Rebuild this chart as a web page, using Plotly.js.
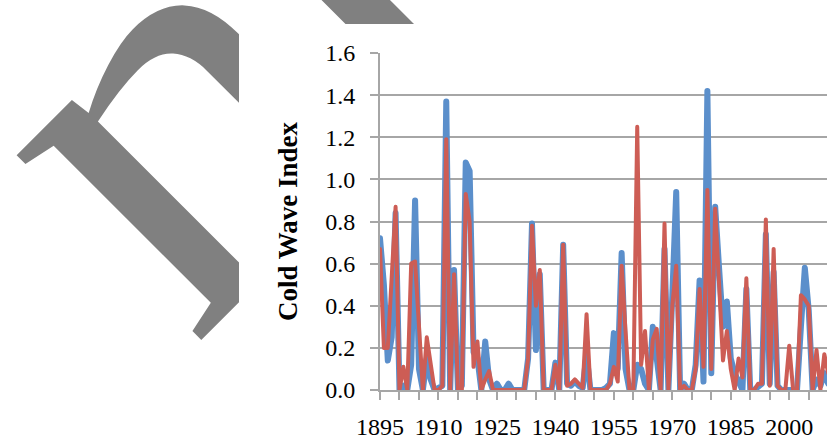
<!DOCTYPE html>
<html>
<head>
<meta charset="utf-8">
<script src="https://cdn.plot.ly/plotly-3.0.1.min.js"></script>
<style>
  html, body { margin:0; padding:0; width:827px; height:440px; overflow:hidden; background:#ffffff; }
  #wm { position:absolute; left:-144.9px; top:13.4px; transform-origin:0 0; transform:rotate(-45deg) scaleX(1.05);
        font-family:'Liberation Serif', serif; font-size:569px; line-height:569px; color:#808080;
        letter-spacing:-18px; white-space:nowrap; z-index:0; }
  #chart { position:absolute; left:239px; top:24px; width:661px; height:416px; z-index:1; }
  #chart .scatterlayer .js-line { stroke-linejoin:round; stroke-linecap:round; }
</style>
</head>
<body>
<div id="wm">ni</div>
<div id="chart"></div>
<script>
const years = [
  1895,1896,1897,1898,1899,1900,1901,1902,1903,1904,
  1905,1906,1907,1908,1909,1910,1911,1912,1913,1914,
  1915,1916,1917,1918,1919,1920,1921,1922,1923,1924,
  1925,1926,1927,1928,1929,1930,1931,1932,1933,1934,
  1935,1936,1937,1938,1939,1940,1941,1942,1943,1944,
  1945,1946,1947,1948,1949,1950,1951,1952,1953,1954,
  1955,1956,1957,1958,1959,1960,1961,1962,1963,1964,
  1965,1966,1967,1968,1969,1970,1971,1972,1973,1974,
  1975,1976,1977,1978,1979,1980,1981,1982,1983,1984,
  1985,1986,1987,1988,1989,1990,1991,1992,1993,1994,
  1995,1996,1997,1998,1999,2000,2001,2002,2003,2004,
  2005,2006,2007,2008,2009,2010
];
const blueSeries = [
  0.72,0.50,0.14,0.25,0.84,0.00,0.02,0.00,0.12,0.90,
  0.10,0.00,0.15,0.05,0.00,0.01,0.02,1.37,0.00,0.57,
  0.00,0.02,1.08,1.04,0.18,0.15,0.00,0.23,0.05,0.00,
  0.03,0.00,0.00,0.03,0.00,0.00,0.00,0.00,0.15,0.79,
  0.19,0.55,0.00,0.00,0.00,0.13,0.00,0.69,0.03,0.02,
  0.04,0.02,0.01,0.17,0.00,0.00,0.00,0.00,0.01,0.03,
  0.27,0.10,0.65,0.10,0.00,0.00,0.12,0.10,0.03,0.00,
  0.30,0.16,0.00,0.67,0.00,0.45,0.94,0.00,0.03,0.00,
  0.00,0.12,0.52,0.04,1.42,0.08,0.87,0.58,0.30,0.42,
  0.15,0.08,0.03,0.00,0.48,0.00,0.00,0.02,0.03,0.74,
  0.03,0.56,0.02,0.00,0.00,0.00,0.00,0.00,0.30,0.58,
  0.38,0.00,0.05,0.02,0.08,0.03
];
const redSeries = [
  0.67,0.20,0.20,0.52,0.87,0.00,0.11,0.00,0.60,0.61,
  0.30,0.00,0.25,0.12,0.00,0.00,0.02,1.19,0.00,0.55,
  0.00,0.00,0.93,0.80,0.11,0.23,0.00,0.05,0.09,0.00,
  0.00,0.00,0.00,0.00,0.00,0.00,0.00,0.00,0.15,0.78,
  0.40,0.57,0.00,0.00,0.00,0.12,0.00,0.69,0.02,0.03,
  0.05,0.03,0.01,0.36,0.00,0.00,0.00,0.00,0.00,0.03,
  0.11,0.04,0.59,0.28,0.00,0.00,1.25,0.12,0.28,0.00,
  0.24,0.29,0.00,0.79,0.00,0.40,0.59,0.00,0.02,0.00,
  0.00,0.10,0.48,0.11,0.95,0.10,0.86,0.50,0.14,0.28,
  0.10,0.00,0.15,0.06,0.53,0.00,0.00,0.03,0.03,0.81,
  0.02,0.67,0.02,0.00,0.00,0.21,0.00,0.00,0.45,0.43,
  0.40,0.00,0.19,0.00,0.17,0.08
];
const yTitle = 'Cold Wave Index';

const gridColor = '#a6a6a6';
const tickFont = { family: 'Liberation Serif, serif', size: 24, color: '#000000' };

const traces = [
  { x: years, y: blueSeries, type: 'scatter', mode: 'lines', name: 'Series 1',
    line: { color: '#5b8fcb', width: 6 }, hoverinfo: 'skip' },
  { x: years, y: redSeries, type: 'scatter', mode: 'lines', name: 'Series 2',
    line: { color: '#cd5d55', width: 4 }, hoverinfo: 'skip' }
];

const layout = {
  width: 661, height: 416,
  margin: { l: 141, r: 64, t: 29, b: 50, pad: 0 },
  paper_bgcolor: '#ffffff', plot_bgcolor: '#ffffff',
  showlegend: false,
  xaxis: {
    type: 'linear', range: [1895, 2012], tick0: 1895, dtick: 15, tickformat: 'd',
    showgrid: false, zeroline: false,
    showline: true, linecolor: gridColor, linewidth: 2,
    ticks: 'outside', ticklen: 8, tickwidth: 2, tickcolor: gridColor,
    tickfont: tickFont, ticklabelstandoff: 6,
    minor: { tick0: 1895, dtick: 5, ticks: 'outside', ticklen: 8, tickwidth: 2, tickcolor: gridColor, showgrid: false }
  },
  yaxis: {
    range: [0, 1.6], dtick: 0.2, tick0: 0, tickformat: '.1f',
    showgrid: true, gridcolor: gridColor, gridwidth: 2, zeroline: false,
    showline: true, linecolor: gridColor, linewidth: 2,
    ticks: 'outside', ticklen: 8, tickwidth: 2, tickcolor: gridColor,
    tickfont: tickFont, ticklabelstandoff: 10,
    title: { text: yTitle, font: { family: 'Liberation Serif, serif', size: 27, color: '#000000', weight: 'bold' }, standoff: 20 }
  }
};

Plotly.newPlot('chart', traces, layout, { staticPlot: true, displayModeBar: false });
</script>
</body>
</html>
